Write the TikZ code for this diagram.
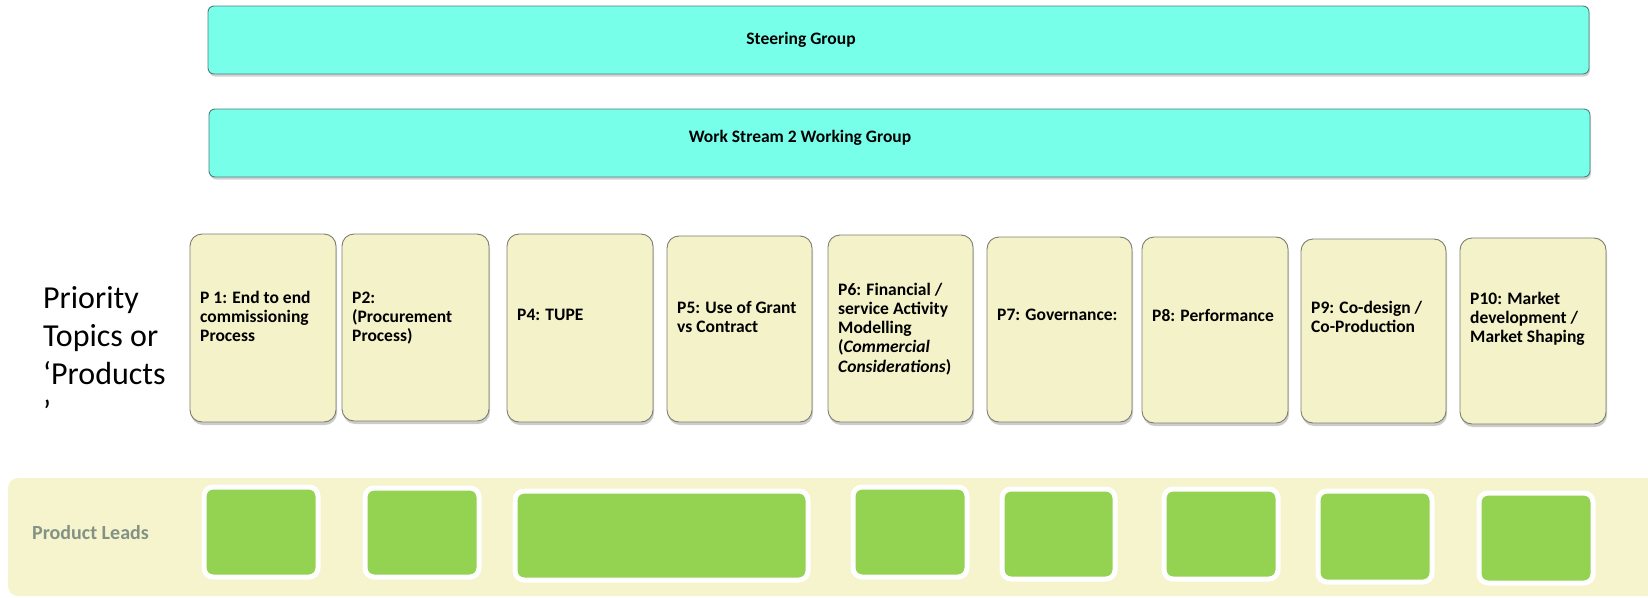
\documentclass[tikz,border=0pt]{standalone}
\usepackage{fontspec}
\setmainfont{Carlito}
\usetikzlibrary{shadows}

\definecolor{groupfill}{HTML}{78FFEA}
\definecolor{groupline}{HTML}{4F7F7C}
\definecolor{topicfill}{HTML}{F3F2C8}
\definecolor{topicline}{HTML}{7C7C70}
\definecolor{bandfill}{HTML}{F5F4CD}
\definecolor{leadfill}{HTML}{94D251}
\definecolor{leadtext}{HTML}{849285}

\tikzset{
  groupbox/.style={draw=groupline, line width=0.9pt, fill=groupfill,
    rounded corners=6pt, inner sep=0pt, outer sep=0pt,
    drop shadow={shadow xshift=1pt, shadow yshift=-2.5pt, opacity=0.35}},
  topicbox/.style={draw=topicline, line width=0.9pt, fill=topicfill,
    rounded corners=12pt, inner sep=0pt, outer sep=0pt,
    drop shadow={shadow xshift=1pt, shadow yshift=-3pt, opacity=0.4}},
  leadbox/.style={draw=white, line width=5pt, fill=leadfill,
    rounded corners=9pt, inner sep=0pt, outer sep=0pt},
  boxlabel/.style={font=\fontsize{17.5}{19.3}\selectfont\bfseries,
    inner sep=0pt, anchor=center},
  topiclabel/.style={font=\fontsize{17.5}{19.3}\selectfont\bfseries,
    inner sep=0pt, anchor=base west},
}

% box from corner (x1,y1) to (x2,y2), pixel units with y downwards
\newcommand{\pixbox}[6]{%
  \node[#1, minimum width={(#5-#3)*1pt}, minimum height={(#6-#4)*1pt}]
    (#2) at ({(#3+#5)/2},{(#4+#6)/2}) {};}
% left-aligned topic text inside a box, first baseline at y
\newcommand{\tlabel}[4]{%
  \node[topiclabel] (#1) at ([xshift=10pt]#2.west |- 0,#3)
    {\parbox[t]{140pt}{\raggedright\fontsize{17.5}{19.3}\selectfont\bfseries #4}};}

\begin{document}
\begin{tikzpicture}[x=1pt, y=-1pt]
\useasboundingbox (0,0) rectangle (1648,597);

% governance bars
\pixbox{groupbox}{steer}{208}{6}{1589}{74}
\node[boxlabel] (steertext) at (801,40) {Steering Group};
\pixbox{groupbox}{ws}{209}{109}{1590}{177}
\node[boxlabel] (wstext) at (800,138) {Work Stream 2 Working Group};

% row label
\node[anchor=base west, inner sep=0pt, font=\fontsize{32}{38}\selectfont] (rowlabel) at (43,308)
  {\parbox[t]{140pt}{\raggedright\fontsize{32}{38}\selectfont Priority\\Topics or\\‘Products\\’}};

% priority topics
\pixbox{topicbox}{p1}{190}{234}{336}{422}
\pixbox{topicbox}{p2}{342}{234}{489}{421}
\pixbox{topicbox}{p4}{507}{234}{653}{422}
\pixbox{topicbox}{p5}{667}{236}{812}{422}
\pixbox{topicbox}{p6}{828}{235}{973}{422}
\pixbox{topicbox}{p7}{987}{237}{1132}{422}
\pixbox{topicbox}{p8}{1142}{237}{1288}{423}
\pixbox{topicbox}{p9}{1301}{239}{1446}{423}
\pixbox{topicbox}{p10}{1460}{238}{1606}{424}

\tlabel{t1}{p1}{303}{P 1: End to end\\commissioning\\Process}
\tlabel{t2}{p2}{303}{P2:\\(Procurement\\Process)}
\tlabel{t4}{p4}{320}{P4: TUPE}
\tlabel{t5}{p5}{313}{P5: Use of Grant\\vs Contract}
\tlabel{t6}{p6}{295}{P6: Financial /\\service Activity\\Modelling\\(\textit{Commercial}\\\textit{Considerations})}
\tlabel{t7}{p7}{320}{P7: Governance:}
\tlabel{t8}{p8}{321}{P8: Performance}
\tlabel{t9}{p9}{313}{P9: Co-design /\\Co-Production}
\tlabel{t10}{p10}{304}{P10: Market\\development /\\Market Shaping}

% product leads band
\fill[bandfill] (1648,478) [rounded corners=10pt] -- (8,478) -- (8,596) [sharp corners] -- (1648,596) -- cycle;
\node[anchor=west, inner sep=0pt, text=leadtext,
  font=\fontsize{20}{23}\selectfont\bfseries] (leads) at (32,533) {Product Leads};

\pixbox{leadbox}{g1}{204}{487}{318}{577}
\pixbox{leadbox}{g2}{365}{488}{479}{577}
\pixbox{leadbox}{g3}{515}{491}{808}{580}
\pixbox{leadbox}{g4}{853}{487}{967}{577}
\pixbox{leadbox}{g5}{1002}{489}{1115}{579}
\pixbox{leadbox}{g6}{1164}{489}{1278}{579}
\pixbox{leadbox}{g7}{1318}{491}{1432}{582}
\pixbox{leadbox}{g8}{1479}{493}{1593}{583}
\end{tikzpicture}
\end{document}
